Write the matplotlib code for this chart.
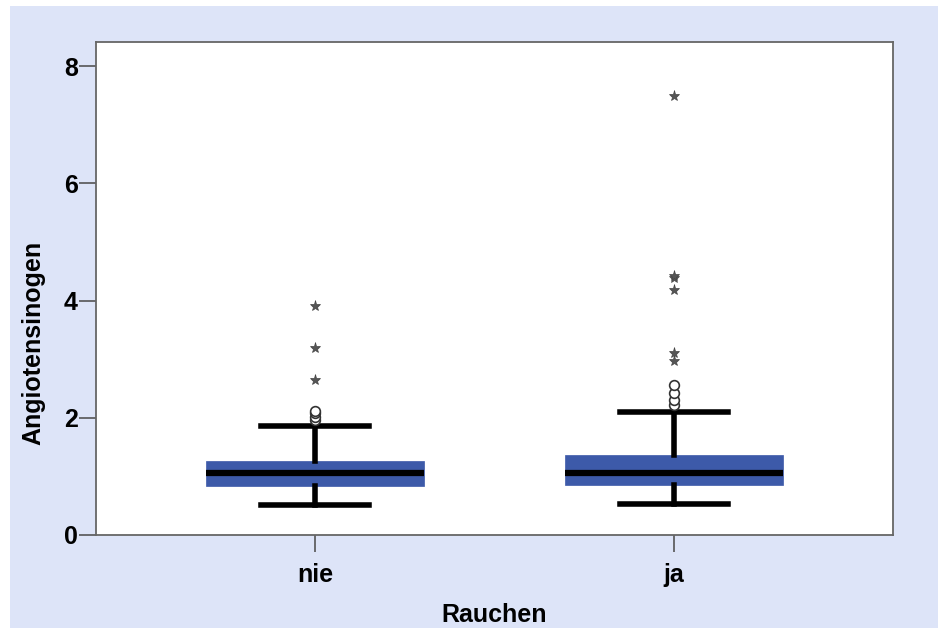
import matplotlib
matplotlib.use("Agg")
import matplotlib.pyplot as plt
from matplotlib.patches import Rectangle

categories = ["nie", "ja"]
q1 = [0.84, 0.85]
medians = [1.06, 1.06]
q3 = [1.26, 1.37]
whisker_low = [0.51, 0.53]
whisker_high = [1.86, 2.10]
circle_outliers = [[1.96, 2.02, 2.08, 2.12], [2.22, 2.30, 2.42, 2.56]]
star_outliers = [[2.64, 3.19, 3.91], [2.97, 3.10, 4.18, 4.38, 4.42, 7.49]]
yticks = [0, 2, 4, 6, 8]

plt.rcParams['font.family'] = ['Liberation Sans', 'DejaVu Sans']

fig = plt.figure(figsize=(9.38, 6.28), dpi=100)
fig.patch.set_facecolor("white")
bg = "#dde4f8"
fig.patches.append(Rectangle((10/938, 0), 1 - 10/938, 1 - 6/628, transform=fig.transFigure,
                             facecolor=bg, edgecolor="none", zorder=-10))

ax = fig.add_axes([96/938, (628-535)/628, (893-96)/938, (535-42)/628])
ax.set_facecolor("white")

stats = []
for i, c in enumerate(categories):
    stats.append(dict(label=c, q1=q1[i], med=medians[i], q3=q3[i],
                      whislo=whisker_low[i], whishi=whisker_high[i], fliers=[]))
positions = list(range(1, len(categories) + 1))
ax.bxp(stats, positions=positions, widths=0.605, patch_artist=True, showfliers=False,
       boxprops=dict(facecolor="#3d5aa9", edgecolor="#3d5aa9", linewidth=0.5),
       medianprops=dict(color="black", linewidth=4.5, solid_capstyle="butt"),
       whiskerprops=dict(color="black", linewidth=4),
       capprops=dict(color="black", linewidth=4),
       capwidths=0.30)

for i, p in enumerate(positions):
    ax.plot([p] * len(circle_outliers[i]), circle_outliers[i], linestyle="none", marker="o",
            markersize=7, markerfacecolor="white", markeredgecolor="#333333", markeredgewidth=1.2, zorder=5)
    ax.plot([p] * len(star_outliers[i]), star_outliers[i], linestyle="none", marker="*",
            markersize=8, markerfacecolor="#555555", markeredgecolor="#444444", markeredgewidth=0.5, zorder=5)

ax.set_xlim(0.39, 2.61)
ax.set_ylim(0, 8.41)
ax.set_yticks(yticks)
ax.set_yticklabels([str(t) for t in yticks], fontsize=18, fontweight="bold")
ax.set_xticks(positions)
ax.set_xticklabels(categories, fontsize=18, fontweight="bold")
ax.tick_params(axis="y", length=12, width=1.2, color="#555555", pad=1)
ax.tick_params(axis="x", length=12, width=1.2, color="#555555", pad=8)
for s in ax.spines.values():
    s.set_color("#666666")
    s.set_linewidth(1.3)

ax.set_xlabel("Rauchen", fontsize=18, fontweight="bold", labelpad=12)
ax.set_ylabel("Angiotensinogen", fontsize=18, fontweight="bold")
ax.yaxis.set_label_coords(-0.064, 0.39)

fig.savefig("out.png", dpi=100, facecolor=fig.get_facecolor())
